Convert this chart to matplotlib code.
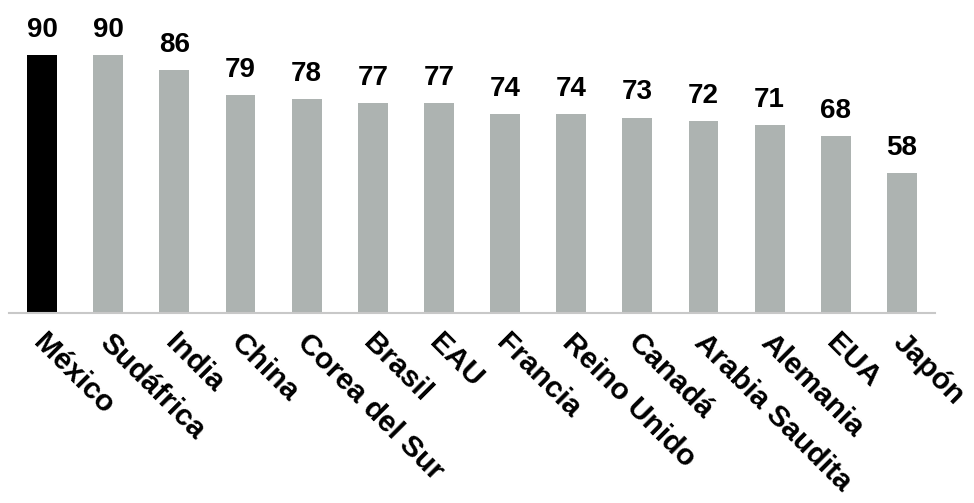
import matplotlib
matplotlib.use("Agg")
import matplotlib.pyplot as plt
from matplotlib.transforms import ScaledTranslation

paises = ["México", "Sudáfrica", "India", "China", "Corea del Sur", "Brasil", "EAU",
          "Francia", "Reino Unido", "Canadá", "Arabia Saudita", "Alemania", "EUA", "Japón"]
valores = [90, 90, 86, 79, 78, 77, 77, 74, 74, 73, 72, 71, 68, 58]
colores = ["#000000"] + ["#adb3b1"] * (len(paises) - 1)

plt.rcParams["font.family"] = ["Liberation Sans", "DejaVu Sans"]
plt.rcParams["font.weight"] = "bold"

fig = plt.figure(figsize=(9.74, 5.03), dpi=100)
ax = fig.add_axes([9 / 974, 190 / 503, 926 / 974, 313 / 503])

x = range(len(paises))
ax.bar(x, valores, width=0.45, color=colores, bottom=0)
ax.set_xlim(-0.5, len(paises) - 0.5)
ax.set_ylim(20, 104.9)

for i, v in enumerate(valores):
    ax.text(i, v + 3.3, str(v), ha="center", va="bottom", fontsize=20, fontweight="bold")

ax.set_xticks(list(x))
ax.set_xticklabels(paises, rotation=-45, ha="left", va="top", rotation_mode="anchor",
                   fontsize=21.5, fontweight="bold")
ax.tick_params(axis="x", length=0, pad=11)
# nudge the slanted labels a little to the right
desplaza = ScaledTranslation(0.05, 0, fig.dpi_scale_trans)
for lab in ax.get_xticklabels():
    lab.set_transform(lab.get_transform() + desplaza)
ax.set_yticks([])
for s in ["left", "right", "top"]:
    ax.spines[s].set_visible(False)
ax.spines["bottom"].set_color("#c8c8c8")
ax.spines["bottom"].set_linewidth(1.5)

fig.savefig("out.png", dpi=100)
